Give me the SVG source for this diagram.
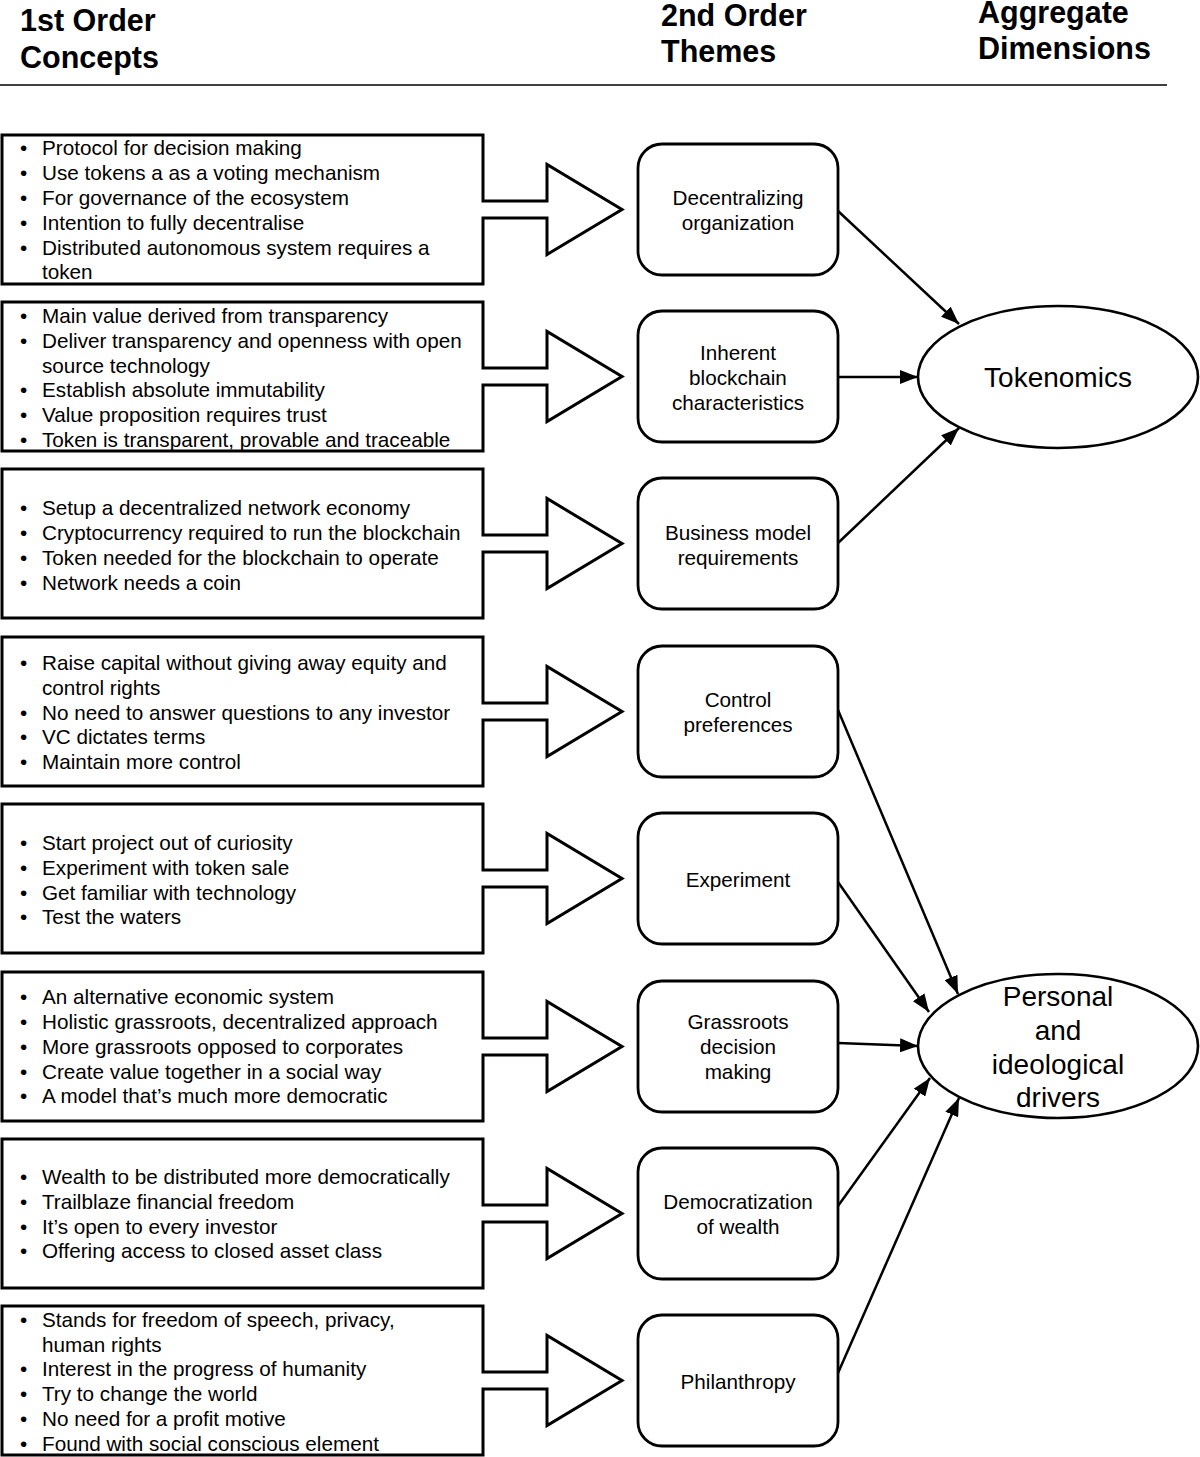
<svg xmlns="http://www.w3.org/2000/svg" width="1200" height="1457" viewBox="0 0 1200 1457">
<defs>
<marker id="ah" markerUnits="userSpaceOnUse" markerWidth="18" markerHeight="14" refX="18" refY="7" orient="auto">
<path d="M0,0 L18,7 L0,14 z" fill="#000"/>
</marker>
</defs>
<style>
text{font-family:"Liberation Sans",Arial,sans-serif;fill:#000}
.hd{font-size:30.5px;font-weight:bold}
.li{font-size:20.7px}
.th{font-size:20.7px;text-anchor:middle}
.ag{font-size:28px;text-anchor:middle}
.blk{fill:#fff;stroke:#000;stroke-width:3;stroke-linejoin:miter}
.rr{fill:#fff;stroke:#000;stroke-width:2.8}
.el{fill:#fff;stroke:#000;stroke-width:2.6}
.cn{stroke:#000;stroke-width:2.5;fill:none;marker-end:url(#ah)}
</style>
<rect width="1200" height="1457" fill="#fff"/>
<g id="header">
<text class="hd" x="20" y="31">1st Order</text>
<text class="hd" x="20" y="68">Concepts</text>
<text class="hd" x="661" y="26">2nd Order</text>
<text class="hd" x="661" y="62">Themes</text>
<text class="hd" x="978" y="23">Aggregate</text>
<text class="hd" x="978" y="59">Dimensions</text>
<line x1="0" y1="85" x2="1167" y2="85" stroke="#000" stroke-width="1.6"/>
</g>
<g id="concepts1">
<path class="blk" d="M2,135 H483 V201 H547 V164.5 L622,209.5 L547,254.5 V218 H483 V284 H2 Z"/>
<text class="li"><tspan x="20" y="155">•</tspan><tspan x="42" y="155">Protocol for decision making</tspan><tspan x="20" y="180">•</tspan><tspan x="42" y="180">Use tokens a as a voting mechanism</tspan><tspan x="20" y="205">•</tspan><tspan x="42" y="205">For governance of the ecosystem</tspan><tspan x="20" y="230">•</tspan><tspan x="42" y="230">Intention to fully decentralise</tspan><tspan x="20" y="255">•</tspan><tspan x="42" y="255">Distributed autonomous system requires a</tspan><tspan x="42" y="279">token</tspan></text>
</g>
<g id="concepts2">
<path class="blk" d="M2,302 H483 V368 H547 V331.5 L622,376.5 L547,421.5 V385 H483 V451 H2 Z"/>
<text class="li"><tspan x="20" y="323">•</tspan><tspan x="42" y="323">Main value derived from transparency</tspan><tspan x="20" y="348">•</tspan><tspan x="42" y="348">Deliver transparency and openness with open</tspan><tspan x="42" y="373">source technology</tspan><tspan x="20" y="397">•</tspan><tspan x="42" y="397">Establish absolute immutability</tspan><tspan x="20" y="422">•</tspan><tspan x="42" y="422">Value proposition requires trust</tspan><tspan x="20" y="447">•</tspan><tspan x="42" y="447">Token is transparent, provable and traceable</tspan></text>
</g>
<g id="concepts3">
<path class="blk" d="M2,469 H483 V535 H547 V498.5 L622,543.5 L547,588.5 V552 H483 V618 H2 Z"/>
<text class="li"><tspan x="20" y="515">•</tspan><tspan x="42" y="515">Setup a decentralized network economy</tspan><tspan x="20" y="540">•</tspan><tspan x="42" y="540">Cryptocurrency required to run the blockchain</tspan><tspan x="20" y="565">•</tspan><tspan x="42" y="565">Token needed for the blockchain to operate</tspan><tspan x="20" y="590">•</tspan><tspan x="42" y="590">Network needs a coin</tspan></text>
</g>
<g id="concepts4">
<path class="blk" d="M2,637 H483 V703 H547 V666.5 L622,711.5 L547,756.5 V720 H483 V786 H2 Z"/>
<text class="li"><tspan x="20" y="670">•</tspan><tspan x="42" y="670">Raise capital without giving away equity and</tspan><tspan x="42" y="695">control rights</tspan><tspan x="20" y="720">•</tspan><tspan x="42" y="720">No need to answer questions to any investor</tspan><tspan x="20" y="744">•</tspan><tspan x="42" y="744">VC dictates terms</tspan><tspan x="20" y="769">•</tspan><tspan x="42" y="769">Maintain more control</tspan></text>
</g>
<g id="concepts5">
<path class="blk" d="M2,804 H483 V870 H547 V833.5 L622,878.5 L547,923.5 V887 H483 V953 H2 Z"/>
<text class="li"><tspan x="20" y="850">•</tspan><tspan x="42" y="850">Start project out of curiosity</tspan><tspan x="20" y="875">•</tspan><tspan x="42" y="875">Experiment with token sale</tspan><tspan x="20" y="900">•</tspan><tspan x="42" y="900">Get familiar with technology</tspan><tspan x="20" y="924">•</tspan><tspan x="42" y="924">Test the waters</tspan></text>
</g>
<g id="concepts6">
<path class="blk" d="M2,972 H483 V1038 H547 V1001.5 L622,1046.5 L547,1091.5 V1055 H483 V1121 H2 Z"/>
<text class="li"><tspan x="20" y="1004">•</tspan><tspan x="42" y="1004">An alternative economic system</tspan><tspan x="20" y="1029">•</tspan><tspan x="42" y="1029">Holistic grassroots, decentralized approach</tspan><tspan x="20" y="1054">•</tspan><tspan x="42" y="1054">More grassroots opposed to corporates</tspan><tspan x="20" y="1079">•</tspan><tspan x="42" y="1079">Create value together in a social way</tspan><tspan x="20" y="1103">•</tspan><tspan x="42" y="1103">A model that’s much more democratic</tspan></text>
</g>
<g id="concepts7">
<path class="blk" d="M2,1139 H483 V1205 H547 V1168.5 L622,1213.5 L547,1258.5 V1222 H483 V1288 H2 Z"/>
<text class="li"><tspan x="20" y="1184">•</tspan><tspan x="42" y="1184">Wealth to be distributed more democratically</tspan><tspan x="20" y="1209">•</tspan><tspan x="42" y="1209">Trailblaze financial freedom</tspan><tspan x="20" y="1234">•</tspan><tspan x="42" y="1234">It’s open to every investor</tspan><tspan x="20" y="1258">•</tspan><tspan x="42" y="1258">Offering access to closed asset class</tspan></text>
</g>
<g id="concepts8">
<path class="blk" d="M2,1306 H483 V1372 H547 V1335.5 L622,1380.5 L547,1425.5 V1389 H483 V1455 H2 Z"/>
<text class="li"><tspan x="20" y="1327">•</tspan><tspan x="42" y="1327">Stands for freedom of speech, privacy,</tspan><tspan x="42" y="1352">human rights</tspan><tspan x="20" y="1376">•</tspan><tspan x="42" y="1376">Interest in the progress of humanity</tspan><tspan x="20" y="1401">•</tspan><tspan x="42" y="1401">Try to change the world</tspan><tspan x="20" y="1426">•</tspan><tspan x="42" y="1426">No need for a profit motive</tspan><tspan x="20" y="1451">•</tspan><tspan x="42" y="1451">Found with social conscious element</tspan></text>
</g>
<g id="theme1">
<rect class="rr" x="638" y="144" width="200" height="131" rx="24"/>
<text class="th"><tspan x="738" y="205">Decentralizing</tspan><tspan x="738" y="230">organization</tspan></text>
</g>
<g id="theme2">
<rect class="rr" x="638" y="311" width="200" height="131" rx="24"/>
<text class="th"><tspan x="738" y="360">Inherent</tspan><tspan x="738" y="385">blockchain</tspan><tspan x="738" y="410">characteristics</tspan></text>
</g>
<g id="theme3">
<rect class="rr" x="638" y="478" width="200" height="131" rx="24"/>
<text class="th"><tspan x="738" y="540">Business model</tspan><tspan x="738" y="565">requirements</tspan></text>
</g>
<g id="theme4">
<rect class="rr" x="638" y="646" width="200" height="131" rx="24"/>
<text class="th"><tspan x="738" y="707">Control</tspan><tspan x="738" y="732">preferences</tspan></text>
</g>
<g id="theme5">
<rect class="rr" x="638" y="813" width="200" height="131" rx="24"/>
<text class="th"><tspan x="738" y="887">Experiment</tspan></text>
</g>
<g id="theme6">
<rect class="rr" x="638" y="981" width="200" height="131" rx="24"/>
<text class="th"><tspan x="738" y="1029">Grassroots</tspan><tspan x="738" y="1054">decision</tspan><tspan x="738" y="1079">making</tspan></text>
</g>
<g id="theme7">
<rect class="rr" x="638" y="1148" width="200" height="131" rx="24"/>
<text class="th"><tspan x="738" y="1209">Democratization</tspan><tspan x="738" y="1234">of wealth</tspan></text>
</g>
<g id="theme8">
<rect class="rr" x="638" y="1315" width="200" height="131" rx="24"/>
<text class="th"><tspan x="738" y="1389">Philanthropy</tspan></text>
</g>
<g id="tokenomics">
<ellipse class="el" cx="1058" cy="377" rx="140" ry="71"/>
<text class="ag" x="1058" y="387">Tokenomics</text>
</g>
<g id="personal">
<ellipse class="el" cx="1058" cy="1046" rx="140" ry="72"/>
<text class="ag"><tspan x="1058" y="1006">Personal</tspan><tspan x="1058" y="1040">and</tspan><tspan x="1058" y="1074">ideological</tspan><tspan x="1058" y="1107">drivers</tspan></text>
</g>
<g id="connectors">
<line class="cn" x1="838" y1="211" x2="959" y2="324"/>
<line class="cn" x1="838" y1="377" x2="918" y2="377"/>
<line class="cn" x1="838" y1="543" x2="959" y2="428"/>
<line class="cn" x1="838" y1="710" x2="958" y2="994"/>
<line class="cn" x1="838" y1="882" x2="929" y2="1012"/>
<line class="cn" x1="838" y1="1043" x2="918" y2="1046"/>
<line class="cn" x1="838" y1="1206" x2="930" y2="1078"/>
<line class="cn" x1="838" y1="1373" x2="959" y2="1098"/>
</g>
</svg>
